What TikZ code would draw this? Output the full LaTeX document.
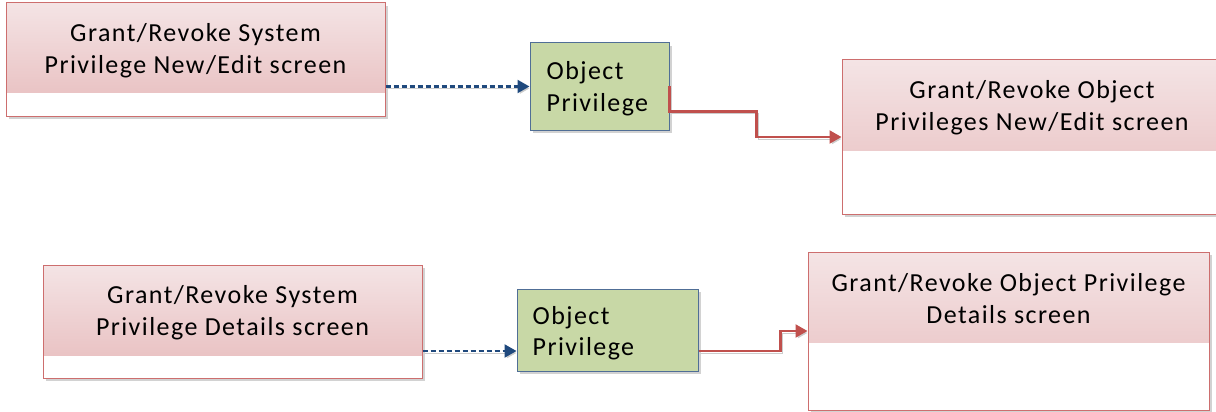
\documentclass[tikz,border=0pt]{standalone}
\usepackage{fontspec}
\setmainfont[LetterSpace=5.5]{Carlito}
\usetikzlibrary{arrows.meta,shadows}

\definecolor{pinktop}{RGB}{244,228,229}
\definecolor{pinkbot}{RGB}{231,187,188}
\definecolor{scrborder}{RGB}{205,110,110}
\definecolor{privfill}{RGB}{200,216,166}
\definecolor{privborder}{RGB}{80,110,150}
\definecolor{linkblue}{RGB}{31,73,125}
\definecolor{linkred}{RGB}{192,80,77}

\begin{document}
\begin{tikzpicture}[x=1pt,y=-1pt]
	\tikzstyle{every node}+=[inner sep=0pt]
	\tikzstyle{screen}=[rectangle, draw=scrborder, line width=1pt, fill=white,
		drop shadow={shadow xshift=3pt, shadow yshift=-3pt, fill=black!35},
		path picture={\shade[top color=pinktop, bottom color=pinkbot]
			(path picture bounding box.north west) rectangle ([yshift=-90pt]path picture bounding box.north east);}]
	\tikzstyle{privbox}=[rectangle, draw=privborder, line width=1pt, fill=privfill,
		drop shadow={shadow xshift=3pt, shadow yshift=-3pt, fill=black!35}]
	\tikzstyle{scrtext}=[align=center, font=\fontsize{26}{31.5}\selectfont]
	\tikzstyle{privtext}=[align=left, anchor=west, font=\fontsize{26}{31.5}\selectfont]
	\tikzstyle{dashlink}=[draw=linkblue, line width=2.2pt, dash pattern=on 5pt off 3pt,
		preaction={draw=black!20, solid, transform canvas={shift={(1.5pt,-2pt)}}},
		-{Triangle[length=12pt,width=13pt]}]
	\tikzstyle{redlink}=[draw=linkred, line width=2.2pt,
		preaction={draw=black!20, transform canvas={shift={(1.5pt,-2pt)}}},
		-{Triangle[length=12pt,width=13pt]}]
	\path[use as bounding box, clip] (0,0) rectangle (1216,412);
	% top row
	\node[screen, minimum width=379pt, minimum height=113pt] (sysedit) at (195.5,59.5) {};
	\node[scrtext] (sysedittxt) at ([yshift=-48pt]sysedit.north) {Grant/Revoke System\\Privilege New/Edit screen};
	\node[privbox, minimum width=139pt, minimum height=87pt] (objpriv1) at (599.5,86.5) {};
	\node[privtext] (objpriv1txt) at ([xshift=17pt,yshift=-2pt]objpriv1.west) {Object\\Privilege};
	\node[screen, minimum width=380pt, minimum height=154pt] (objedit) at (1032,137) {};
	\node[scrtext] (objedittxt) at ([yshift=-48pt]objedit.north) {Grant/Revoke Object\\Privileges New/Edit screen};
	% bottom row
	\node[screen, minimum width=379pt, minimum height=113pt] (sysdet) at (232.5,321.5) {};
	\node[scrtext] (sysdettxt) at ([yshift=-48pt]sysdet.north) {Grant/Revoke System\\Privilege Details screen};
	\node[privbox, minimum width=181pt, minimum height=82pt] (objpriv2) at (607.5,330) {};
	\node[privtext] (objpriv2txt) at ([xshift=16pt,yshift=-3pt]objpriv2.west) {Object\\Privilege};
	\node[screen, minimum width=401pt, minimum height=158pt] (objdet) at (1008.5,331) {};
	\node[scrtext] (objdettxt) at ([yshift=-47pt]objdet.north) {Grant/Revoke Object Privilege\\Details screen};
	% links
	\coordinate (e2in) at ([yshift=-21pt]objpriv2.west);
	\draw[dashlink] (sysedit.east |- objpriv1.west) -- (objpriv1.west);
	\draw[redlink] (objpriv1.east) -- ++(0,25) -- ++(87,0) |- (objedit.west);
	\draw[dashlink] (sysdet.east |- e2in) -- (e2in);
	\draw[redlink] (objpriv2.east |- e2in) -- ++(82,0) |- (objdet.west);
\end{tikzpicture}
\end{document}
